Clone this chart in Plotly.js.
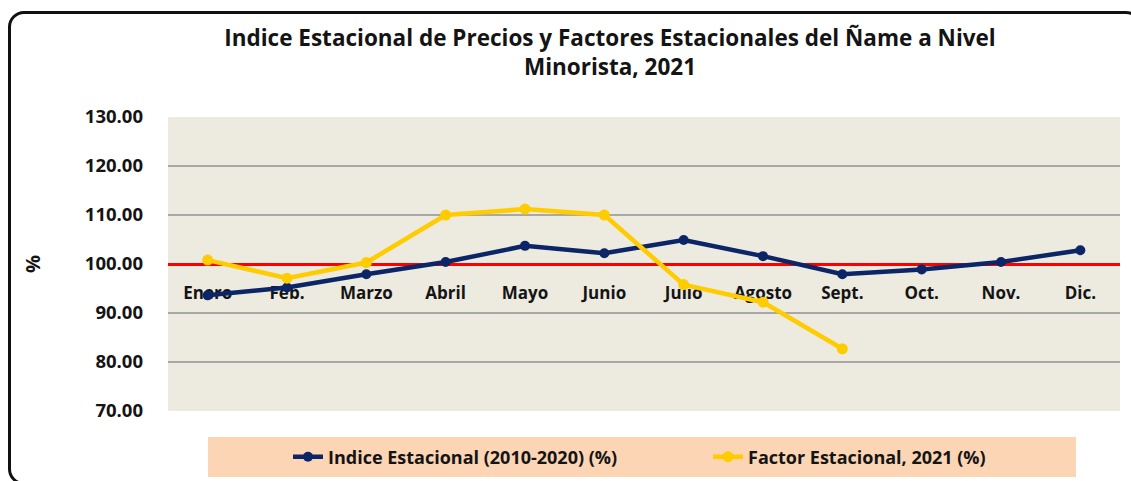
<!DOCTYPE html>
<html>
<head>
<meta charset="utf-8">
<script src="https://cdn.plot.ly/plotly-3.0.1.min.js"></script>
<style>
  html, body { margin: 0; padding: 0; background: #ffffff; }
  #wrap { position: relative; width: 1131px; height: 481px; overflow: hidden; }
  #chart { width: 1131px; height: 481px; }
  #frame { position: absolute; left: 8px; top: 11px; width: 1134px; height: 474px;
           border: 3px solid #111; border-radius: 16px; pointer-events: none; box-sizing: border-box; }
</style>
</head>
<body>
<div id="wrap">
  <div id="chart"></div>
  <div id="frame"></div>
</div>
<script>
const months = ["Enero", "Feb.", "Marzo", "Abril", "Mayo", "Junio", "Julio", "Agosto", "Sept.", "Oct.", "Nov.", "Dic."];
const indiceEstacional = [93.6, 95.2, 97.9, 100.4, 103.7, 102.2, 104.9, 101.6, 97.9, 98.9, 100.4, 102.8];
const factorMonths = ["Enero", "Feb.", "Marzo", "Abril", "Mayo", "Junio", "Julio", "Agosto", "Sept."];
const factorEstacional = [100.8, 97.1, 100.3, 110.0, 111.2, 110.0, 95.8, 92.2, 82.7];
const yTicks = [70, 80, 90, 100, 110, 120, 130];
const seriesNames = ["Indice Estacional (2010-2020) (%)", "Factor Estacional, 2021 (%)"];
const chartTitle = "Indice Estacional de Precios y Factores Estacionales del Ñame a Nivel<br>Minorista, 2021";

const font = "'Open Sans', sans-serif";
const textColor = "#141414";

const traces = [
  {
    type: "scatter", mode: "lines+markers", name: seriesNames[0],
    x: months, y: indiceEstacional,
    line: { color: "#0B2566", width: 4.5 },
    marker: { color: "#0B2566", size: 10, symbol: "circle" }
  },
  {
    type: "scatter", mode: "lines+markers", name: seriesNames[1],
    x: factorMonths, y: factorEstacional,
    line: { color: "#FFCC00", width: 4.5 },
    marker: { color: "#FFCC00", size: 11, symbol: "circle" }
  }
];

const layout = {
  width: 1131, height: 481,
  margin: { l: 168, r: 11, t: 117, b: 70, autoexpand: false },
  paper_bgcolor: "rgba(0,0,0,0)",
  plot_bgcolor: "#EDEAE0",
  showlegend: true,
  title: {
    text: chartTitle,
    x: 610 / 1131, xref: "container", xanchor: "center",
    y: 1 - 46 / 481, yref: "container", yanchor: "middle",
    font: { family: font, size: 22.5, color: textColor, weight: "bold", lineposition: "none" }
  },
  xaxis: {
    type: "category",
    categoryarray: months, categoryorder: "array",
    range: [-0.5, 11.5],
    anchor: "free", position: 0.5,
    showline: true, linecolor: "#FF0000", linewidth: 2.5,
    showgrid: false, zeroline: false,
    ticks: "", ticklabelstandoff: 13,
    tickfont: { family: font, size: 17, color: textColor, weight: "bold" },
    layer: "below traces",
    fixedrange: true
  },
  yaxis: {
    range: [70, 130],
    tickvals: yTicks,
    tickformat: ".2f",
    showgrid: true, gridcolor: "#A8A8A8", gridwidth: 1.5,
    zeroline: false, showline: false, ticks: "",
    ticklabelstandoff: 24,
    tickfont: { family: font, size: 18.5, color: textColor, weight: "bold" },
    title: { text: "%", standoff: 38, font: { family: font, size: 20, color: textColor, weight: "bold" } },
    layer: "below traces",
    fixedrange: true
  },
  legend: {
    orientation: "h",
    x: (288 - 168) / 952, xanchor: "left",
    y: (411 - 457) / 294, yanchor: "middle",
    bgcolor: "rgba(0,0,0,0)",
    entrywidth: 375, entrywidthmode: "pixels",
    font: { family: font, size: 18, color: textColor, weight: "bold" },
    itemclick: false, itemdoubleclick: false
  },
  shapes: [
    {
      type: "rect", xref: "paper", yref: "paper",
      x0: (208 - 168) / 952, x1: (1076 - 168) / 952,
      y0: (411 - 477) / 294, y1: (411 - 437) / 294,
      fillcolor: "#FCD5B5", line: { width: 0 }, layer: "below"
    }
  ]
};

Plotly.newPlot("chart", traces, layout, { displayModeBar: false, staticPlot: true });
</script>
</body>
</html>
